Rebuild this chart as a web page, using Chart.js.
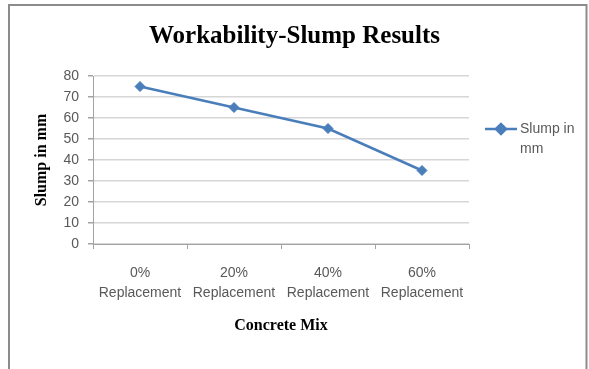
<!DOCTYPE html>
<html>
<head>
<meta charset="utf-8">
<script src="https://cdn.jsdelivr.net/npm/chart.js@4.4.1/dist/chart.umd.min.js"></script>
<style>
  html, body { margin: 0; padding: 0; background: #fff; overflow: hidden; }
  canvas { display: block; }
</style>
</head>
<body>
<canvas id="chart" width="589" height="369"></canvas>
<script>
// Slump test results per concrete mix
const categories = [
  ['0%', 'Replacement'],
  ['20%', 'Replacement'],
  ['40%', 'Replacement'],
  ['60%', 'Replacement']
];
const slumpMm = [75, 65, 55, 35];
const seriesName = 'Slump in mm';
const legendLines = ['Slump in', 'mm'];
const yMin = 0;
const yMax = 80;
const yStep = 10;

const BLUE = '#4a7ebb';
const TICK_GREY = '#595959';
const AXIS_GREY = '#a3a3a3';
const GRID_GREY = '#d6d6d6';

// White page plus the grey frame around the chart object
const framePlugin = {
  id: 'frame',
  beforeDraw(chart) {
    const ctx = chart.ctx;
    ctx.save();
    ctx.fillStyle = '#fff';
    ctx.fillRect(0, 0, chart.width, chart.height);
    ctx.restore();
  },
  afterDraw(chart) {
    const ctx = chart.ctx;
    ctx.save();
    ctx.strokeStyle = '#8c8c8c';
    ctx.lineWidth = 2;
    ctx.beginPath();
    ctx.moveTo(9, chart.height + 2);
    ctx.lineTo(9, 5);
    ctx.lineTo(586.5, 5);
    ctx.lineTo(586.5, chart.height + 2);
    ctx.stroke();
    ctx.restore();
  }
};

// Legend on the right: line with diamond marker and a wrapped label
const sideLegend = {
  id: 'sideLegend',
  afterDraw(chart) {
    const ds = chart.data.datasets[0];
    const ctx = chart.ctx;
    const area = chart.chartArea;
    const x0 = area.right + 16;
    const y0 = 129;
    ctx.save();
    ctx.strokeStyle = ds.borderColor;
    ctx.lineWidth = ds.borderWidth;
    ctx.beginPath();
    ctx.moveTo(x0, y0);
    ctx.lineTo(x0 + 32, y0);
    ctx.stroke();
    ctx.fillStyle = ds.pointBackgroundColor;
    ctx.strokeStyle = ds.borderColor;
    Chart.helpers.drawPoint(ctx, {
      pointStyle: ds.pointStyle,
      radius: ds.pointRadius,
      rotation: 0,
      borderWidth: 1
    }, x0 + 16, y0);
    ctx.fillStyle = TICK_GREY;
    ctx.font = '14px "Liberation Sans", Arial, sans-serif';
    ctx.textBaseline = 'middle';
    ctx.textAlign = 'left';
    legendLines.forEach((t, i) => ctx.fillText(t, x0 + 35, y0 + i * 20));
    ctx.restore();
  }
};

new Chart(document.getElementById('chart'), {
  type: 'line',
  data: {
    labels: categories,
    datasets: [{
      label: seriesName,
      data: slumpMm,
      borderColor: BLUE,
      backgroundColor: BLUE,
      pointBackgroundColor: BLUE,
      pointBorderColor: BLUE,
      borderWidth: 2.5,
      pointStyle: 'rectRot',
      pointRadius: 5,
      pointBorderWidth: 1,
      tension: 0,
      fill: false,
      yAxisID: 'y'
    }]
  },
  options: {
    responsive: false,
    animation: false,
    events: [],
    layout: { padding: 0 },
    plugins: {
      legend: { display: false },
      tooltip: { enabled: false },
      title: {
        display: true,
        text: 'Workability-Slump Results',
        color: '#000',
        font: { family: '"Liberation Serif", "Times New Roman", serif', size: 25, weight: 'bold', lineHeight: 1.2 },
        padding: { top: 22, bottom: 24 }
      }
    },
    scales: {
      x: {
        offset: true,
        grid: {
          display: true,
          drawOnChartArea: false,
          drawTicks: true,
          tickLength: 5,
          offset: true,
          tickColor: AXIS_GREY
        },
        border: { display: true, color: AXIS_GREY, width: 1 },
        ticks: {
          color: TICK_GREY,
          font: { family: '"Liberation Sans", Arial, sans-serif', size: 14, lineHeight: 20 / 14 },
          padding: 14,
          maxRotation: 0,
          autoSkip: false
        },
        title: {
          display: true,
          text: 'Concrete Mix',
          color: '#000',
          font: { family: '"Liberation Serif", "Times New Roman", serif', size: 16, weight: 'bold', lineHeight: 1.2 },
          padding: { top: 0, bottom: 34 }
        },
        afterFit(scale) { scale.height = 125; }
      },
      y: {
        position: 'left',
        min: yMin,
        max: yMax,
        ticks: {
          stepSize: yStep,
          color: TICK_GREY,
          font: { family: '"Liberation Sans", Arial, sans-serif', size: 14 },
          padding: 9
        },
        grid: {
          color: GRID_GREY,
          lineWidth: 1.5,
          drawTicks: true,
          tickLength: 5,
          tickColor: AXIS_GREY
        },
        border: { display: true, color: AXIS_GREY, width: 1 },
        title: {
          display: true,
          text: 'Slump in mm',
          color: '#000',
          font: { family: '"Liberation Serif", "Times New Roman", serif', size: 16, weight: 'bold', lineHeight: 1.2 },
          padding: { top: 32, bottom: 0 }
        },
        afterFit(scale) { scale.width = 93; }
      },
      // empty right-hand axis that reserves the legend column
      legendSpace: {
        position: 'right',
        display: true,
        min: 0,
        max: 1,
        grid: { display: false, drawTicks: false },
        border: { display: false },
        ticks: { display: false },
        afterFit(scale) { scale.width = 120; }
      }
    }
  },
  plugins: [framePlugin, sideLegend]
});
</script>
</body>
</html>
